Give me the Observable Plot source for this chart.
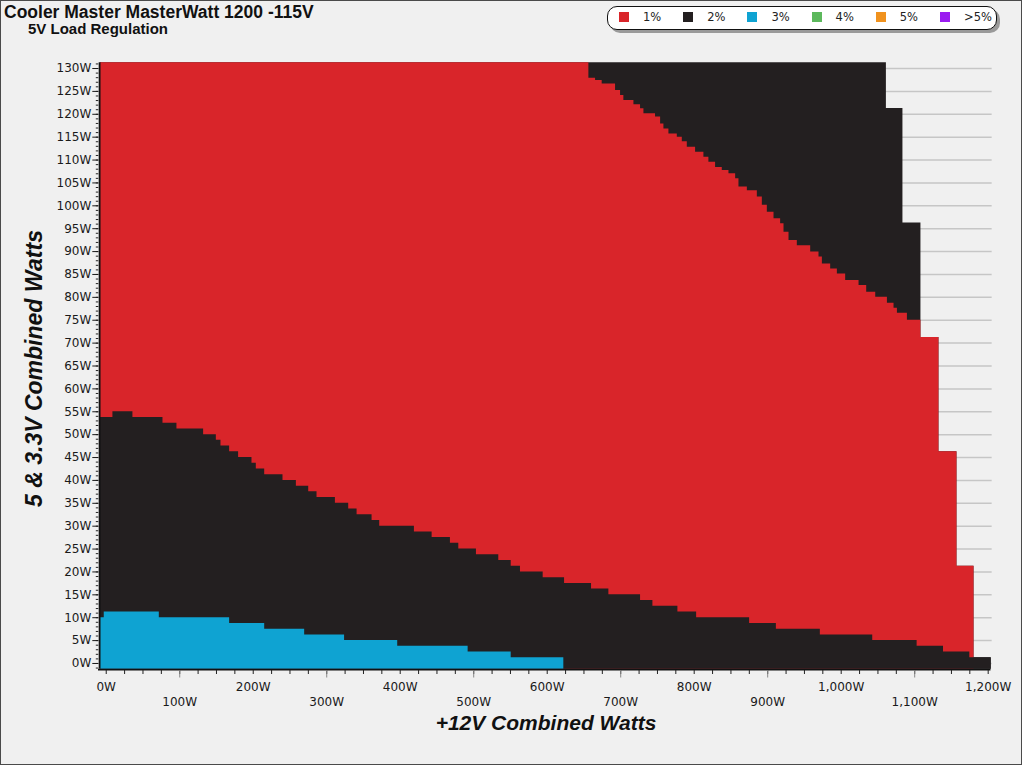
<!DOCTYPE html>
<html>
<head>
<meta charset="utf-8">
<script src="https://cdn.jsdelivr.net/npm/d3@7"></script>
<script src="https://cdn.jsdelivr.net/npm/@observablehq/plot@0.6"></script>
<style>
  html, body { margin: 0; padding: 0; background: #ffffff; }
  #wrap { position: relative; width: 1024px; height: 768px; overflow: hidden; background: #ffffff; }
  #frame { position: absolute; left: 0; top: 0; width: 1020px; height: 763px; border: 1.5px solid #4a4a4a; background: #f0f0f0; }
  #chart { position: absolute; left: 0; top: 0; }
  .t { position: absolute; white-space: nowrap; color: #111; }
  #title { left: 4px; top: 3.5px; font: bold 17.5px/17.5px "Liberation Sans", Arial, sans-serif; }
  #subtitle { left: 28px; top: 20.6px; font: bold 15px/15px "Liberation Sans", Arial, sans-serif; }
  #xtitle { left: 346px; top: 711.7px; width: 400px; text-align: center; font: italic bold 21px/21px "Liberation Sans", Arial, sans-serif; }
  #ytitle { left: -166px; top: 356.8px; width: 400px; text-align: center; font: italic bold 23px/23px "Liberation Sans", Arial, sans-serif; transform: rotate(-90deg); }
  #legend { position: absolute; left: 607px; top: 6px; width: 388px; height: 22px; background: #fff; border: 1px solid #111; border-radius: 10px; box-shadow: 3px 3px 0 #9a9a9a; }
  .li { position: absolute; top: 0; height: 22px; }
  .sw { position: absolute; top: 5px; width: 10px; height: 10px; }
  .lt { position: absolute; top: 3px; left: 24px; font: 11.5px/14px "DejaVu Sans", Verdana, sans-serif; color: #222; white-space: nowrap; }
</style>
</head>
<body>
<div id="wrap">
  <div id="frame"></div>
  <div id="chart"></div>
  <div class="t" id="title">Cooler Master MasterWatt 1200 -115V</div>
  <div class="t" id="subtitle">5V Load Regulation</div>
  <div class="t" id="xtitle">+12V Combined Watts</div>
  <div class="t" id="ytitle">5 &amp; 3.3V Combined Watts</div>
  <div id="legend"></div>
</div>
<script>
// ---------- data ----------
// legend
const legendLabels = ["1%", "2%", "3%", "4%", "5%", ">5%"];
const legendColors = ["#d9252a", "#231f20", "#0fa3d2", "#5cb85c", "#f0921e", "#9a1cf0"];

// outer top edge of the measured area (x = start of step, watts)
const envelopeX = [-7.8, 1061.5, 1084, 1108.5, 1133, 1157.5, 1180.7, 1204.1];
const envelopeY = [131.25, 121.25, 96.25, 71.25, 46.25, 21.25, 1.25, 1.25];

// top edge of the 1% (red) region
const redX = [-7.8, 656.7, 665.8, 674.8, 693, 699.8, 704.3, 718, 727, 731.6, 747.4, 754.3, 758.8, 765.6, 777, 783.8, 790.6, 801.9, 813.2, 820, 829.1, 838.2, 847.3, 856.4, 860.9, 872.3, 885.9, 892.7, 899.5, 908.6, 917.6, 922.2, 929, 940.3, 958.5, 969.8, 974.4, 985.7, 994.8, 1006.1, 1024.3, 1034.7, 1047, 1062.9, 1071.9, 1076.5, 1090.1, 1108.5, 1133, 1157.5, 1180.7];
const redY = [131.25, 127.9, 127.4, 126.6, 125.2, 124.1, 123.0, 122.1, 121.2, 120.1, 119.4, 117.9, 116.8, 115.7, 115.0, 114.0, 112.8, 111.7, 110.6, 109.5, 108.4, 107.7, 107.0, 105.9, 104.1, 103.3, 101.9, 100.1, 98.6, 97.2, 96.1, 94.2, 92.4, 91.3, 89.9, 88.8, 87.3, 86.2, 85.1, 83.7, 82.6, 81.1, 80.0, 78.7, 77.6, 76.5, 75.0, 71.25, 46.25, 21.25, 21.25];

// top edge of the lower 2% (black) region
const lowX = [-7.8, 9.1, 36.3, 77.2, 96.2, 132.5, 149.8, 156.1, 167.9, 180.1, 198.3, 204.2, 215.6, 240.5, 258.7, 275.5, 286.8, 311.8, 329.9, 341.3, 361.7, 372.1, 419.3, 443.4, 468.3, 479.7, 503.7, 534.1, 551, 563.6, 594.5, 623.6, 660.3, 683.9, 727, 743.8, 777.8, 803.3, 875.4, 911.8, 971.6, 1042.9, 1103.3, 1139.2, 1175, 1204.1];
const lowY = [53.75, 55, 53.75, 52.5, 51.25, 50, 48.75, 47.5, 46.25, 45, 43.75, 42.5, 41.25, 40, 38.75, 37.5, 36.25, 35, 33.75, 32.5, 31.25, 30, 28.75, 27.5, 26.25, 25, 23.75, 22.5, 21.25, 20, 18.75, 17.5, 16.25, 15, 13.75, 12.5, 11.25, 10, 8.75, 7.5, 6.25, 5, 3.75, 2.5, 1.25, 1.25];

// top edge of the 3% (blue) region
const blueX = [-7.8, -2.7, 72.2, 167.9, 215.6, 270, 324.3, 396.6, 492.4, 551, 622.6];
const blueY = [10, 11.25, 10, 8.75, 7.5, 6.25, 5, 3.75, 2.5, 1.25, 1.25];

// axes
const xDomain = [-7.8, 1204.1];
const yDomain = [-1.25, 131.25];
const yTicks = d3.range(0, 131, 5);
const yMinorTicks = d3.range(-1, 132, 1);
const xMinorTicks = d3.range(0, 1201, 25);
const xEvenTicks = [0, 200, 400, 600, 800, 1000, 1200];
const xOddTicks = [100, 300, 500, 700, 900, 1100];
const gridEnd = 1205.4;

// ---------- build ----------
const rows = (xs, ys) => xs.map((x, i) => ({x, y: ys[i]}));
const fmtW = d => d3.format(",")(d) + "W";
const C = {red: legendColors[0], black: legendColors[1], blue: legendColors[2]};

const chart = Plot.plot({
  width: 1024,
  height: 768,
  marginLeft: 100,
  marginRight: 33.3,
  marginTop: 62.3,
  marginBottom: 99.3,
  style: {background: "transparent", fontFamily: "'DejaVu Sans', Verdana, sans-serif", fontSize: "12px", color: "#1a1a1a"},
  x: {domain: xDomain},
  y: {domain: yDomain},
  marks: [
    Plot.ruleY(yTicks, {x1: xDomain[0], x2: gridEnd, stroke: "#c6c6c6", strokeWidth: 1.5}),
    Plot.areaY(rows(envelopeX, envelopeY), {x: "x", y1: yDomain[0], y2: "y", curve: "step-after", fill: C.black}),
    Plot.areaY(rows(redX, redY), {x: "x", y1: yDomain[0], y2: "y", curve: "step-after", fill: C.red}),
    Plot.areaY(rows(lowX, lowY), {x: "x", y1: yDomain[0], y2: "y", curve: "step-after", fill: C.black}),
    Plot.areaY(rows(blueX, blueY), {x: "x", y1: yDomain[0], y2: "y", curve: "step-after", fill: C.blue}),
    // axis lines
    Plot.ruleX([xDomain[0]], {y1: yDomain[0], y2: yDomain[1], dx: -0.9, dy: 0, stroke: "#111", strokeWidth: 1.8}),
    Plot.ruleY([yDomain[0]], {x1: xDomain[0], x2: 1206.5, dx: -2, dy: 0.5, stroke: "#111", strokeWidth: 1.8}),
    // y axis
    Plot.axisY(yMinorTicks, {anchor: "left", tickSize: 2.5, dx: -1.7, tickFormat: () => "", label: null, color: "#222"}),
    Plot.axisY(yTicks, {anchor: "left", tickSize: 6, tickPadding: 1.5, dx: -1.7, tickFormat: fmtW, label: null, color: "#1a1a1a", fontSize: 12}),
    // x axis
    Plot.axisX(xMinorTicks, {anchor: "bottom", tickSize: 4, dy: 1.3, tickFormat: () => "", label: null, color: "#222"}),
    Plot.axisX(xOddTicks, {anchor: "bottom", tickSize: 7.5, dy: 1.3, tickFormat: () => "", label: null, color: "#888"}),
    Plot.axisX(xEvenTicks, {anchor: "bottom", tickSize: 0, tickPadding: 13.7, tickFormat: fmtW, label: null, color: "#1a1a1a", fontSize: 12}),
    Plot.axisX(xOddTicks, {anchor: "bottom", tickSize: 0, tickPadding: 28.7, tickFormat: fmtW, label: null, color: "#1a1a1a", fontSize: 12})
  ]
});
document.getElementById("chart").appendChild(chart);

// legend
const legend = document.getElementById("legend");
legendLabels.forEach((lab, i) => {
  const item = document.createElement("div");
  item.className = "li";
  item.style.left = (11 + i * 64.2) + "px";
  const sw = document.createElement("div");
  sw.className = "sw";
  sw.style.background = legendColors[i];
  const tx = document.createElement("div");
  tx.className = "lt";
  tx.textContent = lab;
  item.appendChild(sw);
  item.appendChild(tx);
  legend.appendChild(item);
});
</script>
</body>
</html>
